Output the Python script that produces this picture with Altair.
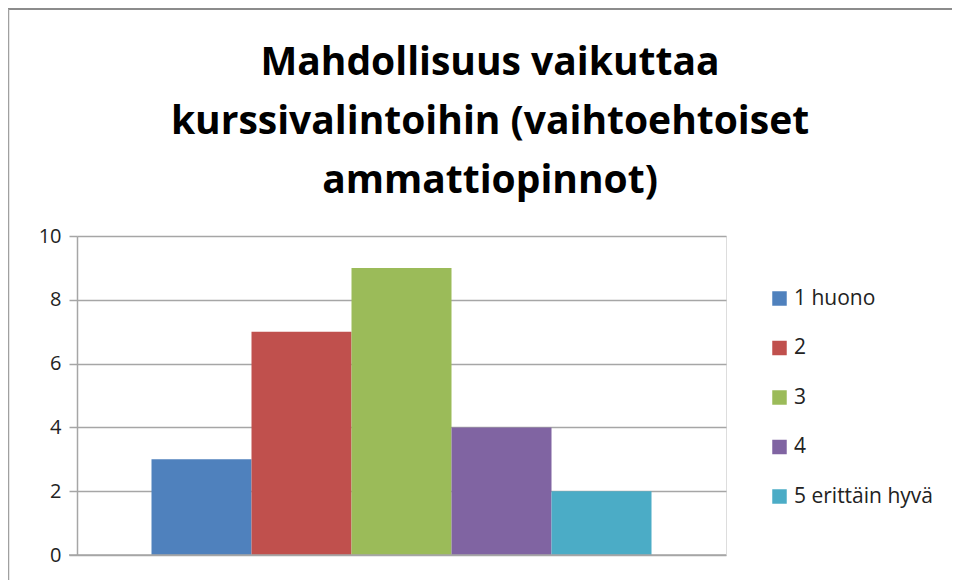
import altair as alt
import pandas as pd

categories = ["1 huono", "2", "3", "4", "5 erittäin hyvä"]
values = [3, 7, 9, 4, 2]
colors = ["#4F81BD", "#C0504D", "#9BBB59", "#8064A2", "#4BACC6"]
y_ticks = [0, 2, 4, 6, 8, 10]
title_lines = ["Mahdollisuus vaikuttaa", "kurssivalintoihin (vaihtoehtoiset", "ammattiopinnot)"]

df = pd.DataFrame({"category": categories, "value": values})

W, H = 649, 319
FONT = "Open Sans"

bars = alt.Chart(df).mark_bar(stroke=None).encode(
    x=alt.X("category:N", sort=categories,
            scale=alt.Scale(paddingInner=0, paddingOuter=0.745),
            axis=None),
    y=alt.Y("value:Q", scale=alt.Scale(domain=[0, 10]),
            axis=alt.Axis(values=y_ticks, title=None, grid=True, gridColor="#A6A6A6",
                          gridWidth=1.5, domainColor="#A6A6A6", domainWidth=1.5,
                          tickColor="#A6A6A6", tickSize=8, tickWidth=1.5,
                          labelFont=FONT, labelFontSize=20, labelColor="#222222",
                          labelPadding=8)),
    color=alt.Color("category:N", sort=categories,
                    scale=alt.Scale(domain=categories, range=colors),
                    legend=alt.Legend(title=None, orient="none", legendX=692, legendY=52,
                                      symbolType="square", symbolSize=210,
                                      symbolStrokeWidth=0, labelFont=FONT,
                                      labelFontSize=21, labelColor="#222222",
                                      rowPadding=27.5, labelOffset=4)),
)

base = alt.Chart(pd.DataFrame({"v": [0]})).mark_rule(color="#A6A6A6", strokeWidth=1.5).encode(
    y="v:Q", x=alt.value(-8), x2=alt.value(W)
)

title = alt.Chart(pd.DataFrame({"t": ["\n".join(title_lines)]})).mark_text(
    font=FONT, fontSize=39, fontWeight="bold", color="#000000",
    align="center", baseline="alphabetic", lineBreak="\n", lineHeight=59
).encode(text="t:N", x=alt.value(413), y=alt.value(-161))

top_border = alt.Chart(pd.DataFrame({"v": [0]})).mark_rule(color="#8C8C8C", strokeWidth=2).encode(
    x=alt.value(-69), x2=alt.value(880), y=alt.value(-227)
)
left_border = alt.Chart(pd.DataFrame({"v": [0]})).mark_rule(color="#A0A0A0", strokeWidth=1.5).encode(
    x=alt.value(-68.5), y=alt.value(-227), y2=alt.value(H + 30)
)

chart = alt.layer(bars, base, title, top_border, left_border).properties(
    width=W, height=H,
    autosize=alt.AutoSizeParams(type="none"),
    padding={"left": 69, "top": 228, "right": 226, "bottom": 25},
).configure_view(stroke=None).configure(background="white")

chart.save("out.html", embed_options={"renderer": "svg", "actions": False})
